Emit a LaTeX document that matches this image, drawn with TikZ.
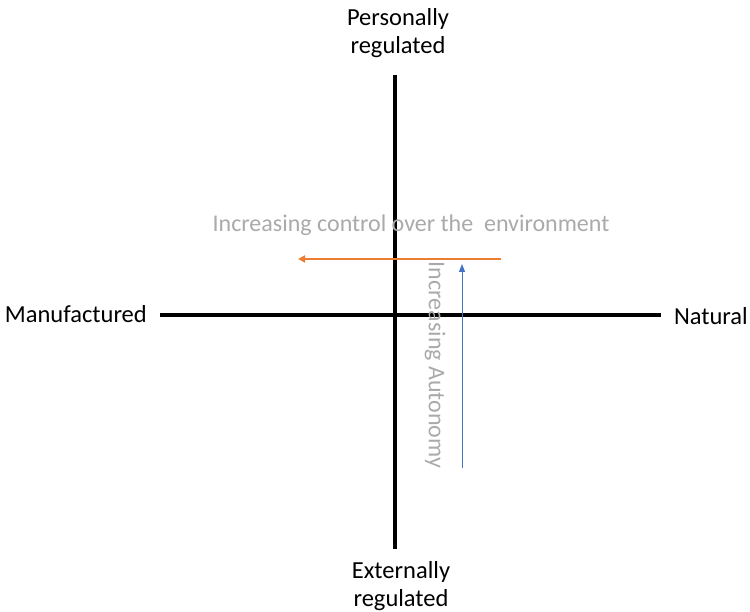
\documentclass[tikz,border=0pt]{standalone}
\usepackage{fontspec}
\setmainfont{Carlito}
\usepackage{tikz}
\usetikzlibrary{arrows.meta}
\definecolor{myorange}{RGB}{237,125,49}
\definecolor{myblue}{RGB}{68,114,196}
\definecolor{mygray}{RGB}{170,170,170}

\begin{document}
\begin{tikzpicture}[x=1pt,y=-1pt,
	axis/.style={line width=4.5pt},
	lbl/.style={font=\fontsize{24.5}{28}\selectfont,align=center,inner sep=0pt},
	note/.style={font=\fontsize{24}{28}\selectfont,text=mygray,inner sep=0pt}]
			\useasboundingbox (0,0) rectangle (750,612);
			\coordinate (top) at (395,75);
			\coordinate (bot) at (395,549);
			\coordinate (left) at (160,315);
			\coordinate (right) at (661,315);
			\draw[axis] (top) -- (bot);
			\draw[axis] (left) -- (right);
			\node[lbl] (pers) at (398,33) {Personally\\regulated};
			\node[lbl] (ext) at (401,586) {Externally\\regulated};
			\node[lbl,anchor=east] (manu) at (147,314) {Manufactured};
			\node[lbl,anchor=east] (nat) at (748,316) {Natural};
			\node[note] (ctrl) at (411,225) {Increasing control over the\ \ environment};
			\node[note,rotate=-90] (auto) at (435,365) {Increasing Autonomy};
			\coordinate (o1) at (501,259);
			\coordinate (o2) at (298,259);
			\coordinate (b1) at (462,468);
			\coordinate (b2) at (462,264);
			\draw[myorange,line width=1.8pt,-{Triangle[length=7pt,width=7pt]}] (o1) -- (o2);
			\draw[myblue,line width=1pt,-{Triangle[length=8pt,width=6pt]}] (b1) -- (b2);
		\end{tikzpicture}
\end{document}
